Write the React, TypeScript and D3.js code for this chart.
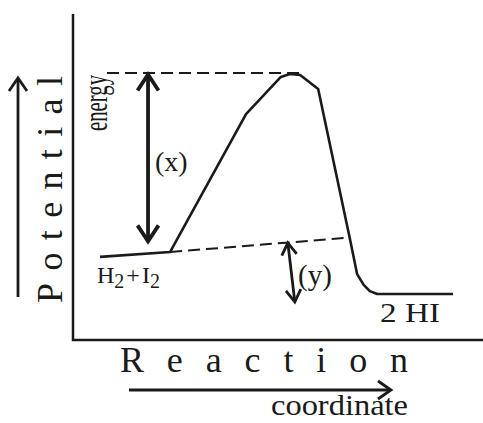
import React from 'react';
import * as d3 from 'd3';

// reaction coordinate (0-100) vs potential energy (0-100)
const pathX = [6.6, 23.7, 42.2, 50.7, 52.9, 55.4, 59.8, 67.6, 69.3, 70.9, 72.4, 74.2, 92.7];
const pathY = [25.5, 27.0, 69.3, 80.7, 81.6, 81.3, 77.0, 30.7, 20.2, 16.9, 15.0, 14.1, 14.1];

const barrierLine = { x: [8.3, 55.4], y: [81.9, 81.9] };
const reactantLine = { x: [23.7, 66.3], y: [27.0, 31.3] };
const arrowX = { x: [18.3, 18.3], y: [81.9, 29.8] };
const arrowY = { x: [52.4, 54.1], y: [29.8, 11.7] };

const W = 483;
const H = 423;

const x = d3.scaleLinear().domain([0, 100]).range([73, 483]);
const y = d3.scaleLinear().domain([0, 100]).range([340, 14]);

const line = d3.line<[number, number]>().x(d => x(d[0])).y(d => y(d[1]));

// open chevron head at (tx,ty) pointing away from (fx,fy)
const head = (fx: number, fy: number, tx: number, ty: number, len: number, half: number) => {
  const a = Math.atan2(ty - fy, tx - fx);
  const bx = tx - len * Math.cos(a);
  const by = ty - len * Math.sin(a);
  const px = -Math.sin(a) * half;
  const py = Math.cos(a) * half;
  return `M${bx + px},${by + py}L${tx},${ty}L${bx - px},${by - py}`;
};

const serif = "'Liberation Serif', 'Times New Roman', Times, serif";

export default function App() {
  const curve = pathX.map((v, i) => [v, pathY[i]] as [number, number]);
  const seg = (o: { x: number[]; y: number[] }) =>
    line([[o.x[0], o.y[0]], [o.x[1], o.y[1]]]) as string;

  const ax = arrowX.x.map(x);
  const ay = arrowX.y.map(y);
  const bx = arrowY.x.map(x);
  const by = arrowY.y.map(y);

  return (
    <svg width={W} height={H} style={{ position: 'absolute', left: 0, top: 0, background: '#fff', fontFamily: serif }}
      fill="#1a1a1a">
      {/* axes */}
      <path d={`M${x(0)},${y(100)}V${y(0)}H${x(100)}`} fill="none" stroke="#1a1a1a" strokeWidth={2.5} />

      {/* dashed guides */}
      <path d={seg(barrierLine)} stroke="#1a1a1a" strokeWidth={2} strokeDasharray="12,6" fill="none" />
      <path d={seg(reactantLine)} stroke="#1a1a1a" strokeWidth={2} strokeDasharray="12,6" fill="none" />

      {/* energy profile */}
      <path d={line(curve) as string} fill="none" stroke="#1a1a1a" strokeWidth={2.6} strokeLinejoin="round" />

      {/* (x) double arrow */}
      <path d={`M${ax[0]},${ay[0] + 2}L${ax[1]},${ay[1] - 2}`} stroke="#1a1a1a" strokeWidth={3.8} />
      <path d={head(ax[1], ay[1], ax[0], ay[0] + 1.5, 16, 10.5)} stroke="#1a1a1a" strokeWidth={3.8} fill="none" />
      <path d={head(ax[0], ay[0], ax[1], ay[1] - 1.5, 16, 10.5)} stroke="#1a1a1a" strokeWidth={3.8} fill="none" />

      {/* (y) double arrow */}
      <path d={`M${bx[0]},${by[0]}L${bx[1]},${by[1]}`} stroke="#1a1a1a" strokeWidth={2.8} />
      <path d={head(bx[1], by[1], bx[0], by[0], 12, 7.5)} stroke="#1a1a1a" strokeWidth={2.8} fill="none" />
      <path d={head(bx[0], by[0], bx[1], by[1], 12, 7.5)} stroke="#1a1a1a" strokeWidth={2.8} fill="none" />

      <text x={155} y={171} fontSize={28}>(x)</text>
      <text x={298} y={285} fontSize={29}>(y)</text>

      <text x={97} y={283} fontSize={24}>
        H<tspan fontSize={20} dy={5}>2</tspan>
        <tspan dy={-5} dx={2}>+</tspan>
        <tspan dx={2}>I</tspan>
        <tspan fontSize={20} dy={5}>2</tspan>
      </text>
      <text x={380} y={322} fontSize={28} textLength={60} lengthAdjust="spacingAndGlyphs">2 HI</text>

      {/* energy (rotated, condensed) */}
      <text transform="translate(107,131) rotate(-90)" fontSize={33} textLength={56} lengthAdjust="spacingAndGlyphs">energy</text>

      {/* Potential label + arrow */}
      <text transform="translate(62,303) rotate(-90)" fontSize={36} textLength={227} lengthAdjust="spacing">Potential</text>
      <path d="M18,297V79" stroke="#1a1a1a" strokeWidth={2.8} />
      <path d={head(18, 297, 18, 78, 13, 9)} stroke="#1a1a1a" strokeWidth={2.8} fill="none" />

      {/* Reaction coordinate label + arrow */}
      <text x={120} y={372} fontSize={36} textLength={288} lengthAdjust="spacing">Reaction</text>
      <path d="M129,390H390" stroke="#1a1a1a" strokeWidth={2.8} />
      <path d={head(129, 390, 391, 390, 13, 9)} stroke="#1a1a1a" strokeWidth={2.8} fill="none" />
      <text x={271} y={415} fontSize={30} textLength={137} lengthAdjust="spacingAndGlyphs">coordinate</text>
    </svg>
  );
}
